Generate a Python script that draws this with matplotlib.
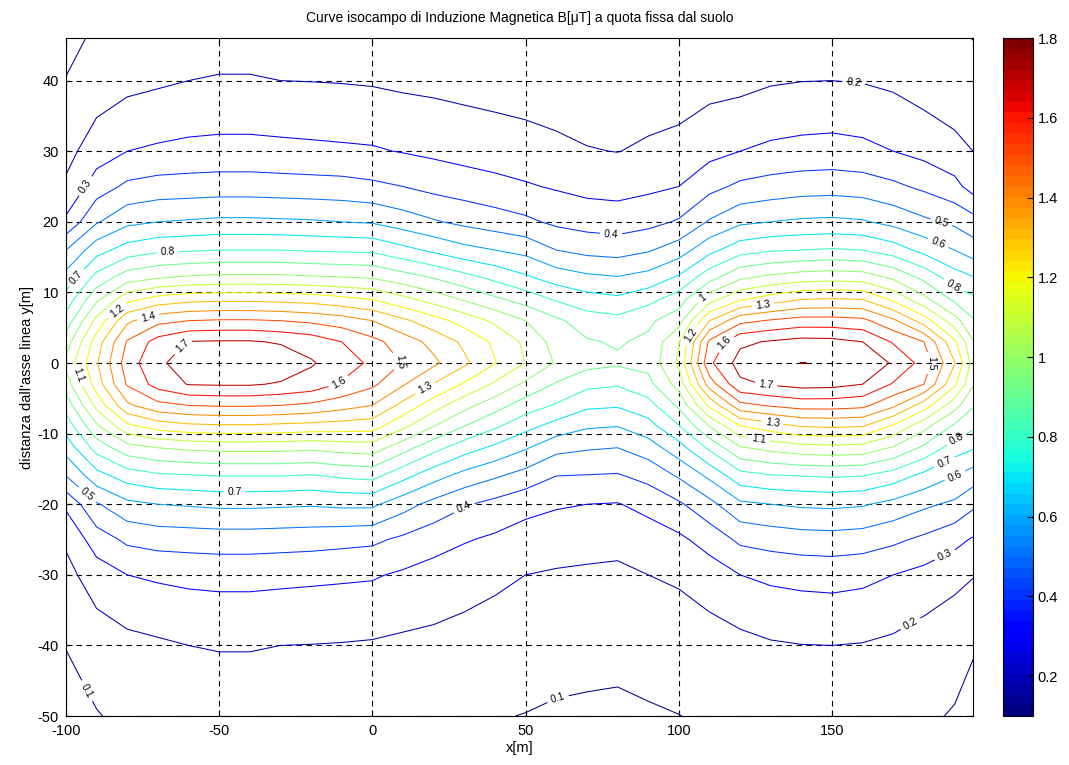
import numpy as np
import matplotlib
matplotlib.use("Agg")
import matplotlib.pyplot as plt
from matplotlib.colors import Normalize
from matplotlib.cm import ScalarMappable
from matplotlib.ticker import FormatStrFormatter

# grid positions (m)
x_m = [-100, -90, -80, -70, -60, -50, -40, -30, -20, -10, 0, 10, 20, 30, 40, 50,
       60, 70, 80, 90, 100, 110, 120, 130, 140, 150, 160, 170, 180, 190, 196]
y_m = [-50, -40, -30, -25, -20, -16, -12, -9, -6, -3, 0, 3, 6, 9, 12, 16, 20, 25, 30, 40, 50]

# B [uT], one list per x position, from y=-50 up to y=50
b_columns = [
    [0.07, 0.102, 0.17, 0.215, 0.32, 0.50, 0.64, 0.74, 0.84, 0.95, 1.03, 0.95, 0.84, 0.74, 0.64, 0.50, 0.32, 0.215, 0.17, 0.102, 0.07],
    [0.095, 0.145, 0.25, 0.35, 0.49, 0.66, 0.84, 0.98, 1.13, 1.25, 1.29, 1.25, 1.13, 0.98, 0.84, 0.66, 0.49, 0.35, 0.25, 0.145, 0.095],
    [0.12, 0.17, 0.30, 0.42, 0.575, 0.745, 0.96, 1.17, 1.38, 1.51, 1.55, 1.51, 1.38, 1.17, 0.96, 0.745, 0.575, 0.42, 0.30, 0.17, 0.12],
    [0.135, 0.185, 0.315, 0.44, 0.60, 0.78, 1.00, 1.24, 1.47, 1.64, 1.68, 1.64, 1.47, 1.24, 1.00, 0.78, 0.60, 0.44, 0.315, 0.185, 0.135],
    [0.145, 0.20, 0.325, 0.445, 0.61, 0.79, 1.02, 1.27, 1.50, 1.705, 1.75, 1.705, 1.50, 1.27, 1.02, 0.79, 0.61, 0.445, 0.325, 0.20, 0.145],
    [0.15, 0.205, 0.33, 0.45, 0.62, 0.80, 1.03, 1.28, 1.51, 1.71, 1.78, 1.71, 1.51, 1.28, 1.03, 0.80, 0.62, 0.45, 0.33, 0.205, 0.15],
    [0.15, 0.205, 0.33, 0.45, 0.62, 0.80, 1.03, 1.28, 1.51, 1.71, 1.79, 1.71, 1.51, 1.28, 1.03, 0.80, 0.62, 0.45, 0.33, 0.205, 0.15],
    [0.148, 0.20, 0.325, 0.445, 0.615, 0.80, 1.03, 1.27, 1.50, 1.69, 1.77, 1.69, 1.50, 1.27, 1.03, 0.80, 0.615, 0.445, 0.325, 0.20, 0.148],
    [0.145, 0.198, 0.32, 0.44, 0.61, 0.79, 1.02, 1.26, 1.48, 1.66, 1.71, 1.66, 1.48, 1.26, 1.02, 0.79, 0.61, 0.44, 0.32, 0.198, 0.145],
    [0.135, 0.195, 0.315, 0.43, 0.62, 0.815, 1.04, 1.25, 1.44, 1.59, 1.65, 1.60, 1.45, 1.23, 1.01, 0.785, 0.60, 0.435, 0.315, 0.195, 0.142],
    [0.13, 0.19, 0.31, 0.42, 0.62, 0.83, 1.05, 1.24, 1.40, 1.52, 1.58, 1.53, 1.40, 1.20, 1.00, 0.78, 0.59, 0.42, 0.31, 0.19, 0.14],
    [0.122, 0.18, 0.286, 0.38, 0.54, 0.73, 0.94, 1.12, 1.27, 1.41, 1.495, 1.45, 1.32, 1.13, 0.95, 0.73, 0.55, 0.40, 0.295, 0.18, 0.132],
    [0.114, 0.174, 0.262, 0.34, 0.468, 0.638, 0.834, 1.0, 1.144, 1.296, 1.42, 1.37, 1.24, 1.06, 0.90, 0.68, 0.51, 0.37, 0.28, 0.174, 0.124],
    [0.108, 0.164, 0.24, 0.308, 0.41, 0.564, 0.746, 0.898, 1.034, 1.188, 1.32, 1.28, 1.16, 0.99, 0.84, 0.63, 0.476, 0.35, 0.264, 0.166, 0.118],
    [0.104, 0.152, 0.22, 0.284, 0.37, 0.512, 0.678, 0.814, 0.942, 1.084, 1.205, 1.18, 1.08, 0.92, 0.78, 0.60, 0.448, 0.33, 0.252, 0.158, 0.114],
    [0.098, 0.14, 0.20, 0.26, 0.33, 0.46, 0.61, 0.73, 0.85, 0.98, 1.097, 1.08, 1.00, 0.86, 0.72, 0.57, 0.42, 0.31, 0.24, 0.15, 0.11],
    [0.09, 0.13, 0.19, 0.245, 0.31, 0.40, 0.53, 0.66, 0.79, 0.89, 0.99, 0.96, 0.92, 0.79, 0.66, 0.50, 0.38, 0.29, 0.22, 0.15, 0.104],
    [0.087, 0.125, 0.185, 0.235, 0.30, 0.395, 0.51, 0.61, 0.72, 0.825, 0.935, 0.91, 0.85, 0.74, 0.625, 0.47, 0.36, 0.27, 0.205, 0.14, 0.102],
    [0.086, 0.12, 0.18, 0.23, 0.295, 0.39, 0.50, 0.60, 0.71, 0.81, 0.915, 0.89, 0.83, 0.72, 0.61, 0.46, 0.35, 0.265, 0.198, 0.14, 0.102],
    [0.092, 0.13, 0.20, 0.25, 0.33, 0.43, 0.55, 0.66, 0.76, 0.87, 0.93, 0.92, 0.88, 0.77, 0.64, 0.49, 0.37, 0.28, 0.215, 0.145, 0.104],
    [0.099, 0.14, 0.215, 0.28, 0.385, 0.51, 0.66, 0.79, 0.92, 1.04, 1.12, 1.09, 0.96, 0.85, 0.72, 0.55, 0.41, 0.30, 0.23, 0.15, 0.105],
    [0.11, 0.155, 0.25, 0.34, 0.47, 0.62, 0.82, 1.00, 1.22, 1.45, 1.58, 1.52, 1.30, 1.06, 0.87, 0.67, 0.51, 0.37, 0.27, 0.165, 0.115],
    [0.12, 0.17, 0.30, 0.42, 0.58, 0.76, 0.99, 1.19, 1.47, 1.68, 1.74, 1.68, 1.47, 1.19, 0.99, 0.76, 0.58, 0.42, 0.30, 0.17, 0.12],
    [0.13, 0.19, 0.32, 0.44, 0.60, 0.79, 1.03, 1.25, 1.51, 1.71, 1.78, 1.71, 1.51, 1.25, 1.03, 0.79, 0.60, 0.44, 0.32, 0.19, 0.13],
    [0.138, 0.198, 0.33, 0.455, 0.615, 0.80, 1.06, 1.30, 1.54, 1.735, 1.801, 1.735, 1.54, 1.30, 1.06, 0.80, 0.615, 0.455, 0.33, 0.198, 0.138],
    [0.14, 0.20, 0.335, 0.46, 0.62, 0.81, 1.07, 1.31, 1.54, 1.73, 1.795, 1.73, 1.54, 1.31, 1.07, 0.81, 0.62, 0.46, 0.335, 0.20, 0.14],
    [0.135, 0.195, 0.325, 0.45, 0.61, 0.80, 1.06, 1.30, 1.525, 1.70, 1.76, 1.70, 1.525, 1.30, 1.06, 0.80, 0.61, 0.45, 0.325, 0.195, 0.135],
    [0.125, 0.18, 0.30, 0.42, 0.57, 0.75, 0.99, 1.18, 1.42, 1.59, 1.69, 1.59, 1.42, 1.18, 0.99, 0.75, 0.57, 0.42, 0.30, 0.18, 0.125],
    [0.11, 0.15, 0.27, 0.38, 0.52, 0.67, 0.88, 1.03, 1.25, 1.50, 1.56, 1.50, 1.25, 1.03, 0.88, 0.67, 0.52, 0.38, 0.27, 0.15, 0.11],
    [0.095, 0.125, 0.23, 0.33, 0.48, 0.60, 0.75, 0.88, 1.04, 1.22, 1.305, 1.22, 1.04, 0.88, 0.75, 0.60, 0.48, 0.33, 0.23, 0.13, 0.095],
    [0.08, 0.105, 0.205, 0.29, 0.42, 0.55, 0.71, 0.82, 0.91, 1.01, 1.06, 1.01, 0.91, 0.82, 0.71, 0.55, 0.44, 0.26, 0.20, 0.12, 0.085],
]

# where the contour labels sit in the reference
label_spots = [
    (157, 39.3), (-94.4, 25.3), (77.8, 17.8), (186, 20.5), (-97.5, 12.5), (184, 16.3),
    (-66.7, 16.1), (189, 10.5), (107, 9.7), (-84, 7.8), (-73.2, 6.6), (-62.7, 2.7),
    (-97, -1.8), (9.4, 0.3), (-10.5, -3), (18, -4.2), (-45, -17.8), (-92.8, -18.5),
    (30.7, -21.2), (-93, -46.4), (60, -46.4), (104.6, 3.8), (127.5, 8.5), (115.4, 2.8),
    (183, 0), (128.4, -3.5), (130.7, -7.9), (125.8, -11.3), (190.5, -10.6),
    (186.6, -13.9), (190.5, -16.4), (188, -28.3), (176.8, -37.9),
]

levels = np.round(np.arange(0.1, 1.85, 0.1), 1)

plt.rcParams['font.family'] = ['Liberation Sans', 'DejaVu Sans']
plt.rcParams['axes.unicode_minus'] = False

xx, yy = np.meshgrid(x_m, y_m)
zz = np.array(b_columns).T

cmap = plt.get_cmap('jet', 64)
norm = Normalize(vmin=0.1, vmax=1.8)

fig = plt.figure(figsize=(10.69, 7.65), dpi=100)
ax = fig.add_axes([0.0617, 0.064, 0.8485, 0.886])
cax = fig.add_axes([0.938, 0.064, 0.028, 0.886])

cs = ax.contour(xx, yy, zz, levels=levels, cmap=cmap, norm=norm, linewidths=0.75)
ax.clabel(cs, manual=label_spots, inline=True, fmt='%g', fontsize=7.5, colors='k', inline_spacing=4)

ax.set_xlim(-100, 196)
ax.set_ylim(-50, 46)
ax.set_xticks([-100, -50, 0, 50, 100, 150])
ax.set_yticks(np.arange(-50, 41, 10))
ax.grid(True, color='k', linestyle=(0, (5, 4)), linewidth=0.8)
ax.tick_params(direction='in', top=True, right=True, labelsize=10.5, length=4)
ax.tick_params(axis='x', pad=6)
ax.tick_params(axis='y', pad=5)
ax.set_xlabel('x[m]', fontsize=10.5, labelpad=2)
ax.set_ylabel("distanza dall'asse linea y[m]", fontsize=10.5, labelpad=3)
ax.set_title('Curve isocampo di Induzione Magnetica B[μT] a quota fissa dal suolo', fontsize=10, pad=12)

cb = fig.colorbar(ScalarMappable(norm=norm, cmap=cmap), cax=cax,
                  ticks=np.round(np.arange(0.2, 1.81, 0.2), 1))
cb.ax.yaxis.set_major_formatter(FormatStrFormatter('%g'))
cb.ax.tick_params(direction='in', labelsize=10.5, length=4)
cb.outline.set_linewidth(0.8)

fig.savefig('out.png', dpi=100)
